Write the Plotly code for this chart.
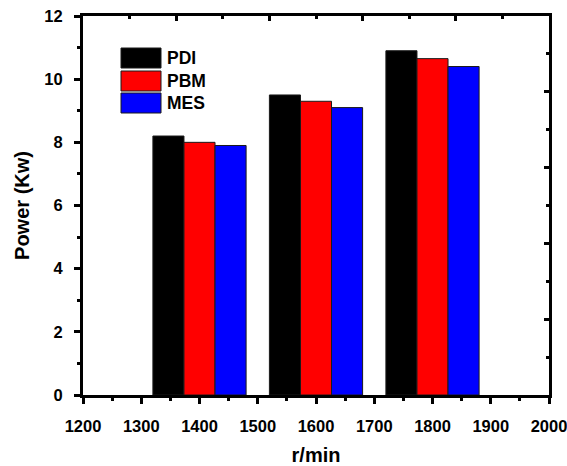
import plotly.graph_objects as go

speeds = [1400, 1600, 1800]
pdi = [8.2, 9.5, 10.9]
pbm = [8.0, 9.3, 10.65]
mes = [7.9, 9.1, 10.4]
series_names = ["PDI", "PBM", "MES"]
series_colors = ["#000000", "#ff0000", "#0000ff"]
x_ticks = [1200, 1300, 1400, 1500, 1600, 1700, 1800, 1900, 2000]
y_ticks = [0, 2, 4, 6, 8, 10, 12]

W, H = 567, 466
L, R, T, B = 83, 18, 16, 71
PW, PH = W - L - R, H - T - B

fig = go.Figure()
for name, vals, col in zip(series_names, [pdi, pbm, mes], series_colors):
    fig.add_trace(go.Bar(x=speeds, y=vals, name=name, marker_color=col,
                         marker_line=dict(color="#1a1a1a", width=1),
                         showlegend=False))

# invisible helper trace so the top/right tick axes are drawn
fig.add_trace(go.Scatter(x=[None], y=[None], xaxis="x2", yaxis="y2",
                         showlegend=False, hoverinfo="skip"))

FAM = "Liberation Sans, Arial, sans-serif"
tick_font = dict(family=FAM, size=16.5, color="black")
title_font = dict(family=FAM, size=20, color="black")

fig.update_layout(
    width=W, height=H,
    margin=dict(l=L, r=R, t=T, b=B, pad=0),
    paper_bgcolor="white", plot_bgcolor="white",
    barmode="group", bargap=0.2, bargroupgap=0,
    xaxis=dict(range=[1200, 2000], tickvals=x_ticks,
               ticktext=[f"<b>{v}</b>" for v in x_ticks],
               tickfont=tick_font, showgrid=False, zeroline=False,
               automargin=False, ticklabelstandoff=8, ticklabeloverflow="allow",
               showline=True, linewidth=3, linecolor="black", mirror=True,
               ticks="outside", ticklen=6, tickwidth=3, tickcolor="black",
               minor=dict(ticks="outside", dtick=50, tick0=1250, ticklen=3,
                          tickwidth=3, tickcolor="black", showgrid=False),
               title=dict(text="<b>r/min</b>", font=title_font, standoff=15)),
    yaxis=dict(range=[0, 12], tickvals=y_ticks,
               ticktext=[f"<b>{v}</b>" for v in y_ticks],
               tickfont=tick_font, showgrid=False, zeroline=False,
               automargin=False, ticklabelstandoff=8, ticklabeloverflow="allow",
               showline=True, linewidth=3, linecolor="black", mirror=True,
               ticks="outside", ticklen=6, tickwidth=3, tickcolor="black",
               minor=dict(ticks="outside", dtick=1, tick0=1, ticklen=3,
                          tickwidth=3, tickcolor="black", showgrid=False),
               title=dict(text="<b>Power (Kw)</b>", font=title_font, standoff=10)),
    xaxis2=dict(overlaying="x", side="top", anchor="y", range=[0, 10],
                dtick=2, tick0=0, showticklabels=False, showgrid=False,
                zeroline=False, showline=False, automargin=False,
                ticks="inside", ticklen=5, tickwidth=3, tickcolor="black",
                minor=dict(ticks="inside", dtick=1, ticklen=3, tickwidth=3,
                           tickcolor="black", showgrid=False)),
    yaxis2=dict(overlaying="y", side="right", anchor="x", range=[0, 10],
                dtick=2, tick0=0, showticklabels=False, showgrid=False,
                zeroline=False, showline=False, automargin=False,
                ticks="inside", ticklen=5, tickwidth=3, tickcolor="black",
                minor=dict(ticks="inside", dtick=1, ticklen=3, tickwidth=3,
                           tickcolor="black", showgrid=False)),
)

# legend drawn as swatches + text (paper coordinates)
def px_x(p):
    return (p - L) / PW

def px_y(p):
    return (H - B - p) / PH

legend_tops = [48, 71, 93]
for name, col, top in zip(series_names, series_colors, legend_tops):
    fig.add_shape(type="rect", xref="paper", yref="paper",
                  x0=px_x(121), x1=px_x(161), y0=px_y(top + 20), y1=px_y(top),
                  fillcolor=col, line=dict(color="#1a1a1a", width=1))
    fig.add_annotation(xref="paper", yref="paper", x=px_x(165), y=px_y(top + 10),
                       text=f"<b>{name}</b>", showarrow=False, xanchor="left",
                       yanchor="middle",
                       font=dict(family=FAM, size=17.5, color="black"))

fig.write_html("out.html")
